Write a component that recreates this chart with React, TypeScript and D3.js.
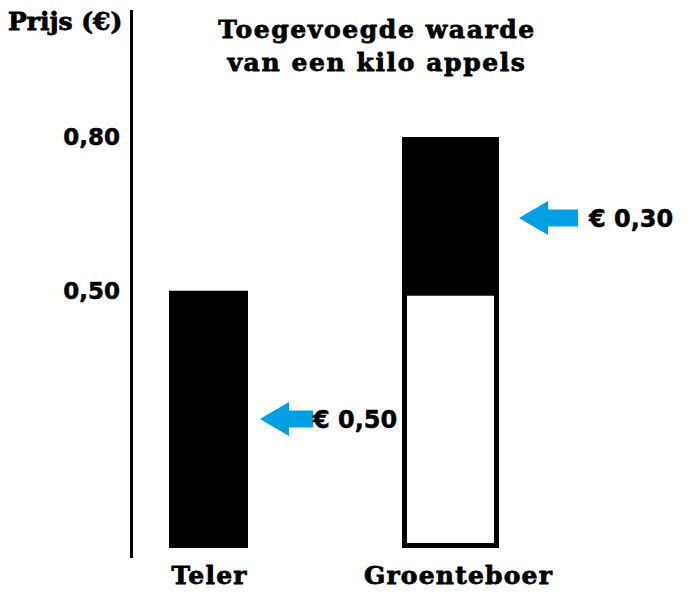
import React from "react";
import * as d3 from "d3";

const categories = ["Teler", "Groenteboer"];
const baseValues = [0.5, 0.5];
const addedValues = [0, 0.3];
const tickValues = [0.5, 0.8];
const tickLabels = ["0,50", "0,80"];
const annotationLabels = ["€ 0,50", "€ 0,30"];
const titleLines = ["Toegevoegde waarde", "van een kilo appels"];
const yAxisTitle = "Prijs (€)";

const W = 688;
const H = 595;
const BLUE = "#009FE3";
const SERIF = "'DejaVu Serif', serif";
const SANS = "'DejaVu Sans', sans-serif";
const barWidths = [79, 97];
const labelShift = [1, 8];

export default function App() {
  const y = d3.scaleLinear().domain([0, 0.8]).range([547, 137]);
  const x = d3.scalePoint<string>().domain(categories).range([208.5, 450.5]);

  const arrow = (tipX: number, tipY: number, len: number) => {
    const headLen = 29;
    const headHalf = 17;
    const shaftHalf = 8.5;
    const p = d3.path();
    p.moveTo(tipX, tipY);
    p.lineTo(tipX + headLen, tipY - headHalf);
    p.lineTo(tipX + headLen, tipY - shaftHalf);
    p.lineTo(tipX + len, tipY - shaftHalf);
    p.lineTo(tipX + len, tipY + shaftHalf);
    p.lineTo(tipX + headLen, tipY + shaftHalf);
    p.lineTo(tipX + headLen, tipY + headHalf);
    p.closePath();
    return p.toString();
  };

  const heavy = { stroke: "#000", strokeWidth: 0.8, paintOrder: "stroke" as const };
  const semi = { stroke: "#000", strokeWidth: 0.5 };

  return (
    <svg width={W} height={H} style={{ position: "absolute", left: 0, top: 0, background: "#fff" }}>
      <rect x={0} y={0} width={W} height={H} fill="#fff" />
      {/* y axis title */}
      <text x={8} y={30} fontFamily={SERIF} fontWeight="bold" fontSize={25} fill="#000" {...heavy}>
        {yAxisTitle}
      </text>
      {/* axis line */}
      <line x1={131.5} x2={131.5} y1={10} y2={558} stroke="#000" strokeWidth={3} />
      {/* ticks */}
      {tickValues.map((v, i) => (
        <text
          key={v}
          x={120}
          y={y(v)}
          dy="0.36em"
          textAnchor="end"
          fontFamily={SANS}
          fontWeight="bold"
          fontSize={23}
          fill="#000"
          {...semi}
        >
          {tickLabels[i]}
        </text>
      ))}
      {/* title */}
      {titleLines.map((t, i) => (
        <text
          key={t}
          x={377}
          y={38 + i * 33}
          textAnchor="middle"
          fontFamily={SERIF}
          fontWeight="bold"
          fontSize={25}
          letterSpacing={1.6}
          fill="#000"
          {...heavy}
        >
          {t}
        </text>
      ))}
      {/* bars */}
      {categories.map((c, i) => {
        const cx = x(c)!;
        const w = barWidths[i];
        const total = baseValues[i] + addedValues[i];
        if (addedValues[i] === 0) {
          return (
            <rect key={c} x={cx - w / 2} y={y(total)} width={w} height={y(0) - y(total) + 1} fill="#000" />
          );
        }
        const sw = 5;
        return (
          <g key={c}>
            <rect
              x={cx - w / 2 + sw / 2}
              y={y(baseValues[i]) + sw / 2}
              width={w - sw}
              height={y(0) - y(baseValues[i]) + 1 - sw}
              fill="#fff"
              stroke="#000"
              strokeWidth={sw}
            />
            <rect
              x={cx - w / 2}
              y={y(total)}
              width={w}
              height={y(baseValues[i]) - y(total) + 2}
              fill="#000"
            />
          </g>
        );
      })}
      {/* annotations */}
      {categories.map((c, i) => {
        const cx = x(c)!;
        const w = barWidths[i];
        const lo = addedValues[i] === 0 ? 0 : baseValues[i];
        const hi = baseValues[i] + addedValues[i];
        const midY = y((lo + hi) / 2) + (i === 1 ? 4 : 0);
        const tipX = cx + w / 2 + (i === 0 ? 12 : 20);
        const len = i === 0 ? 53 : 59;
        const textX = i === 0 ? tipX + len : tipX + len + 11;
        return (
          <g key={c}>
            <path d={arrow(tipX, midY, len)} fill={BLUE} />
            <text
              x={textX}
              y={midY}
              dy="0.36em"
              fontFamily={SANS}
              fontWeight="bold"
              fontSize={24}
              fill="#000"
              {...semi}
            >
              {annotationLabels[i]}
            </text>
          </g>
        );
      })}
      {/* category labels */}
      {categories.map((c, i) => (
        <text
          key={c}
          x={x(c)! + labelShift[i]}
          y={584}
          textAnchor="middle"
          fontFamily={SERIF}
          fontWeight="bold"
          fontSize={25}
          letterSpacing={1.2}
          fill="#000"
          {...heavy}
        >
          {c}
        </text>
      ))}
    </svg>
  );
}
